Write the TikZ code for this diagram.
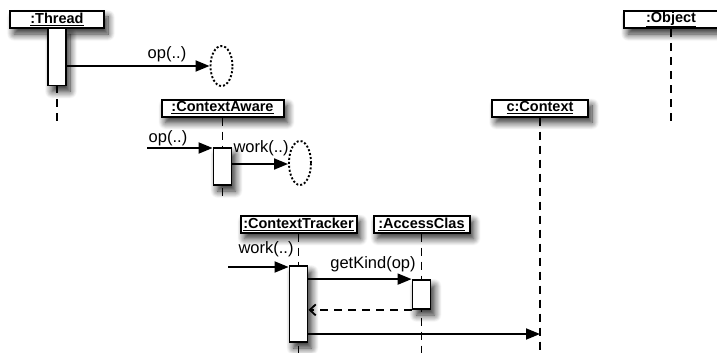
\documentclass[tikz,border=0pt]{standalone}
\usepackage{fontspec}
\setmainfont{Liberation Sans}
\usetikzlibrary{arrows.meta,shapes.geometric,shadows.blur}

\begin{document}
\begin{tikzpicture}[x=1pt,y=-1pt,
    shade/.style={blur shadow={shadow xshift=4pt,shadow yshift=-6pt,shadow blur radius=7pt,
      shadow blur steps=10,shadow opacity=85}},
    obj/.style={draw,fill=white,line width=2pt,minimum height=17pt,inner sep=0pt,
      font=\bfseries\fontsize{14.5}{14.5}\selectfont,shade},
    act/.style={draw,fill=white,line width=1.8pt,minimum width=18pt,inner sep=0pt,shade},
    life/.style={line width=1.8pt,dash pattern=on 8pt off 6pt},
    msg/.style={line width=1.8pt,-{Triangle[length=14pt,width=11pt]}},
    ret/.style={line width=1.8pt,dash pattern=on 8pt off 6pt,-{Straight Barb[length=6pt,width=11pt]}},
    lbl/.style={font=\fontsize{16.5}{16.5}\selectfont,inner sep=0pt,anchor=base},
    dest/.style={ellipse,draw,fill=white,line width=1.9pt,dash pattern=on 2pt off 2pt,
      minimum width=22pt,minimum height=40pt,inner sep=0pt}]
  \useasboundingbox (0,0) rectangle (717,353);
  % objects
  \node[obj,minimum width=94pt] (thread) at (57,19.5) {\underline{:Thread}};
  \node[obj,minimum width=94pt] (object) at (671,19.5) {\underline{:Object}};
  \node[obj,minimum width=122pt] (caware) at (222.5,108) {\underline{:ContextAware}};
  \node[obj,minimum width=96pt] (ctx) at (540,108) {\underline{c:Context}};
  \node[obj,minimum width=116pt] (tracker) at (298.5,224) {\underline{:ContextTracker}};
  \node[obj,minimum width=96pt] (access) at (421.5,224) {\underline{:AccessClas}};
  % lifelines
  \coordinate (threadE) at (57,125);
  \coordinate (objectE) at (671,125);
  \coordinate (cawareE) at (222.5,196);
  \coordinate (ctxE) at (540,353);
  \coordinate (trackerE) at (298.5,353);
  \coordinate (accessE) at (421.5,353);
  \foreach \o in {thread,object,caware,ctx,tracker,access}{
    \draw[life] (\o.south) -- (\o E);
  }
  % activations
  \node[act,minimum height=57pt] (threadA) at (57,57) {};
  \node[act,minimum height=37pt] (cawareA) at (222.5,166.5) {};
  \node[act,minimum height=76pt] (trackerA) at (298.5,304) {};
  \node[act,minimum height=29pt] (accessA) at (421.5,294.5) {};
  % destroyed targets
  \node[dest] (threadD) at (221.5,66) {};
  \node[dest,minimum height=44pt] (cawareD) at (300,163) {};
  % messages
  \draw[msg] (threadA.east |- threadD) -- (threadD.west);
  \node[lbl] (opA) at (167,59) {op(..)};
  \coordinate (cawareIn) at (147,148);
  \draw[msg] (cawareIn) -- (cawareIn -| cawareA.west);
  \node[lbl] (opB) at (168,142) {op(..)};
  \draw[msg] (cawareA.east |- 0,164) -- (cawareD.west |- 0,164);
  \node[lbl] (workA) at (261,152) {work(..)};
  \coordinate (trackerIn) at (228,267);
  \draw[msg] (trackerIn) -- (trackerIn -| trackerA.west);
  \node[lbl] (workB) at (266,253) {work(..)};
  \draw[msg] (trackerA.east |- accessA.north) -- (accessA.north west);
  \node[lbl] (kind) at (373,268) {getKind(op)};
  \draw[ret] (accessA.south west) -- (trackerA.east |- accessA.south);
  \coordinate (ctxHit) at (ctx |- 0,334);
  \draw[msg] (trackerA.east |- ctxHit) -- (ctxHit);
\end{tikzpicture}
\end{document}
